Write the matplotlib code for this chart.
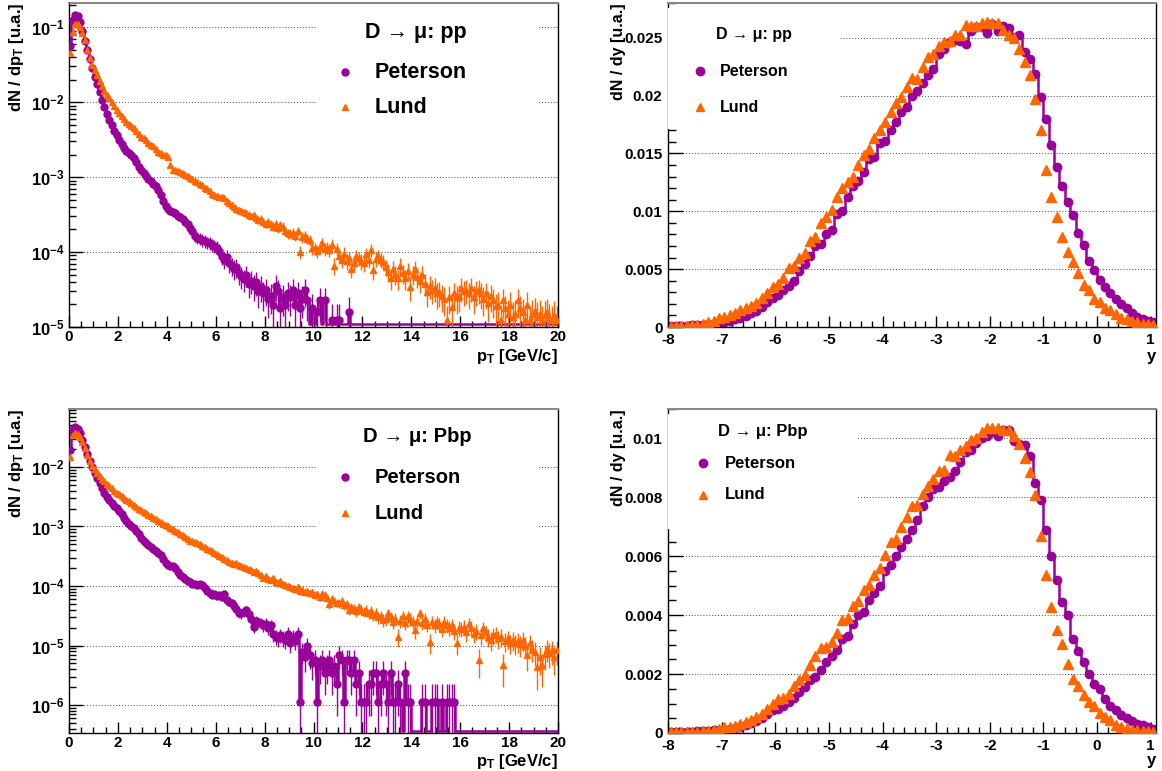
import numpy as np
import matplotlib
matplotlib.use("Agg")
import matplotlib.pyplot as plt
from matplotlib.ticker import MultipleLocator, LogLocator, FuncFormatter, NullFormatter
from matplotlib.patches import Rectangle

plt.rcParams['font.family'] = ['Liberation Sans', 'DejaVu Sans']
plt.rcParams['font.weight'] = 'bold'
plt.rcParams['mathtext.fontset'] = 'custom'
plt.rcParams['mathtext.rm'] = 'Liberation Sans:bold'
plt.rcParams['mathtext.bf'] = 'Liberation Sans:bold'
plt.rcParams['mathtext.it'] = 'Liberation Sans:bold'

PURPLE = '#990099'
ORANGE = '#ff6600'
nan = np.nan

# ---- pT spectra, log10(dN/dpT), bins of 0.1 GeV/c from 0 to 20 ----
pt_pet_pp = [
    -1.25, -0.90, -0.84, -0.85, -0.93, -1.05, -1.18, -1.30, -1.42, -1.54,
    -1.66, -1.76, -1.87, -1.97, -2.07, -2.16, -2.24, -2.31, -2.38, -2.44,
    -2.50, -2.56, -2.61, -2.65, -2.68, -2.71, -2.74, -2.80, -2.86, -2.91,
    -2.95, -2.98, -3.02, -3.05, -3.09, -3.12, -3.17, -3.24, -3.32, -3.38,
    -3.42, -3.45, -3.47, -3.48, -3.52, -3.53, -3.56, -3.60, -3.63, -3.68,
    -3.72, -3.78, -3.81, -3.82, -3.84, -3.85, -3.87, -3.88, -3.90, -3.92,
    -3.94, -3.98, -4.05, -4.10, -4.07, -4.15, -4.18, -4.22, -4.20, -4.28,
    -4.32, -4.36, -4.30, -4.42, -4.38, -4.45, -4.40, -4.52, -4.46, -4.55,
    -4.50, -4.62, -4.58, -4.70, -4.45, -4.52, -4.75, -4.60, -4.70, -4.55,
    -4.60, -4.51, -4.70, -4.55, -4.75, -4.62, -4.51, -4.64, nan, -4.75,
    nan, -4.80, -4.64, nan, -4.64, nan, nan, -4.91, nan, -4.91,
    -4.91, nan, nan, nan, -4.80, nan, nan, nan, nan, nan,
] + [nan] * 80

pt_lund_pp = [
    -1.35, -1.06, -0.96, -0.96, -1.00, -1.08, -1.17, -1.30, -1.41, -1.51,
    -1.57, -1.64, -1.72, -1.78, -1.85, -1.90, -1.95, -2.00, -2.05, -2.10,
    -2.14, -2.18, -2.23, -2.26, -2.29, -2.32, -2.34, -2.38, -2.42, -2.46,
    -2.48, -2.51, -2.54, -2.57, -2.59, -2.62, -2.66, -2.68, -2.70, -2.71,
    -2.73, -2.84, -2.91, -2.90, -2.92, -2.93, -2.95, -2.97, -2.98, -3.01,
    -3.03, -3.05, -3.07, -3.09, -3.11, -3.14, -3.16, -3.19, -3.22, -3.24,
    -3.25, -3.27, -3.26, -3.28, -3.32, -3.35, -3.37, -3.40, -3.42, -3.44,
    -3.45, -3.47, -3.48, -3.50, -3.52, -3.51, -3.55, -3.57, -3.56, -3.60,
    -3.62, -3.60, -3.63, -3.66, -3.62, -3.68, -3.64, -3.66, -3.72, -3.75,
    -3.76, -3.74, -3.78, -3.72, -4.00, -3.80, -3.78, -3.82, -3.84, -3.95,
    -3.95, -3.98, -3.93, -3.88, -3.96, -3.94, -3.97, -3.90, -4.18, -3.96,
    -4.05, -4.10, -4.02, -4.12, -4.08, -4.22, -4.14, -4.05, -4.08, -4.12,
    -4.15, -4.03, -4.10, -3.97, -4.24, -4.09, -4.05, -4.10, -4.13, -4.20,
    -4.26, -4.35, -4.22, -4.30, -4.35, -4.18, -4.28, -4.35, -4.25, -4.47,
    -4.30, -4.22, -4.33, -4.38, -4.30, -4.42, -4.53, -4.45, -4.50, -4.48,
    -4.55, -4.53, -4.58, -4.62, -4.91, -4.60, -4.73, -4.55, -4.60, -4.58,
    -4.48, -4.52, -4.50, -4.55, -4.48, -4.60, -4.52, -4.50, -4.55, -4.62,
    -4.55, -4.68, -4.58, -4.64, -4.72, -4.70, -4.91, -4.64, -4.75, -4.82,
    -4.70, -4.86, -4.82, -4.64, -4.75, -4.80, -4.91, -4.70, -4.91, -4.82,
    -4.78, -4.86, -4.82, -4.91, -4.84, -4.80, -4.88, -4.91, -4.84, -4.91,
]

pt_pet_pbp = [
    -1.72, -1.36, -1.33, -1.36, -1.43, -1.55, -1.67, -1.79, -1.90, -2.00,
    -2.10, -2.19, -2.27, -2.36, -2.43, -2.50, -2.55, -2.60, -2.65, -2.69,
    -2.74, -2.79, -2.86, -2.90, -2.95, -2.99, -3.03, -3.08, -3.13, -3.20,
    -3.24, -3.28, -3.31, -3.34, -3.37, -3.42, -3.45, -3.48, -3.55, -3.62,
    -3.65, -3.66, -3.67, -3.70, -3.76, -3.82, -3.85, -3.88, -3.92, -3.94,
    -3.96, -3.97, -3.98, -3.97, -3.99, -4.03, -4.08, -4.12, -4.15, -4.14,
    -4.16, -4.15, -4.18, -4.14, -4.24, -4.27, -4.29, -4.33, -4.38, -4.45,
    -4.46, -4.43, -4.41, -4.47, -4.55, -4.68, -4.58, -4.60, -4.62, -4.66,
    -4.63, -4.70, -4.66, -4.80, -4.85, -4.88, -4.82, -4.87, -4.90, -4.80,
    -4.96, -4.85, -4.92, -4.80, -5.94, -5.10, -5.20, -5.00, -5.16, -5.30,
    -5.24, -5.94, -5.34, -5.24, -5.46, -5.34, -5.24, -5.46, -5.34, -5.64,
    -5.16, -5.24, -5.94, -5.24, -5.24, -5.46, -5.24, -5.64, -5.46, -5.94,
    -5.94, -5.94, -5.64, -5.64, -5.46, -5.46, -5.94, -5.64, -5.46, -5.64,
    -5.94, -5.46, -5.94, -5.94, -5.64, -5.94, nan, -5.46, -5.94, -5.94,
    nan, nan, nan, nan, -5.94, -5.94, nan, nan, -5.94, -5.94,
    -5.94, nan, -5.94, nan, -5.94, -5.94, -5.94, -5.94, nan, nan,
] + [nan] * 40

pt_lund_pbp = [
    -1.83, -1.47, -1.43, -1.44, -1.49, -1.58, -1.68, -1.80, -1.90, -1.98,
    -2.04, -2.10, -2.15, -2.20, -2.24, -2.28, -2.32, -2.36, -2.40, -2.43,
    -2.46, -2.49, -2.52, -2.55, -2.58, -2.61, -2.64, -2.68, -2.70, -2.73,
    -2.75, -2.78, -2.80, -2.82, -2.85, -2.88, -2.90, -2.93, -2.95, -2.97,
    -2.99, -3.02, -3.05, -3.08, -3.10, -3.12, -3.15, -3.18, -3.21, -3.24,
    -3.25, -3.26, -3.28, -3.30, -3.33, -3.35, -3.37, -3.40, -3.42, -3.45,
    -3.47, -3.49, -3.52, -3.54, -3.56, -3.59, -3.61, -3.63, -3.62, -3.64,
    -3.66, -3.68, -3.70, -3.71, -3.73, -3.76, -3.75, -3.78, -3.82, -3.86,
    -3.84, -3.88, -3.90, -3.87, -3.93, -3.95, -3.92, -3.96, -3.98, -4.00,
    -4.01, -4.03, -4.05, -4.02, -4.09, -4.06, -4.10, -4.08, -4.12, -4.10,
    -4.15, -4.14, -4.18, -4.13, -4.15, -4.20, -4.30, -4.22, -4.25, -4.28,
    -4.29, -4.25, -4.32, -4.30, -4.40, -4.35, -4.38, -4.42, -4.36, -4.40,
    -4.43, -4.40, -4.46, -4.42, -4.48, -4.45, -4.52, -4.50, -4.57, -4.55,
    -4.46, -4.52, -4.60, -4.55, -4.85, -4.58, -4.50, -4.62, -4.51, -4.55,
    -4.60, -4.74, -4.58, -4.46, -4.62, -4.55, -4.65, -4.94, -4.60, -4.66,
    -4.60, -4.64, -4.72, -4.60, -4.66, -4.70, -4.66, -4.75, -4.96, -4.70,
    -4.72, -4.68, -4.78, -4.63, -4.70, -4.80, -4.75, -5.24, -4.82, -4.71,
    -4.78, -4.85, -4.90, -4.82, -4.80, -4.88, -4.85, -5.33, -4.92, -4.88,
    -4.95, -4.90, -4.96, -4.93, -4.98, -4.91, -5.00, -5.16, -4.95, -5.05,
    -5.10, -5.36, -5.20, -5.33, -5.15, -5.05, -5.12, -5.08, -5.20, -5.08,
]

# weight of one entry, used for the Poisson error bars
w_pet_pp, w_lund_pp = 5e-6, 4e-6
w_pet_pbp, w_lund_pbp = 1.15e-6, 1.5e-6

# ---- rapidity spectra dN/dy, bins of 0.1 from -8 to 1.1 ----
y_pet_pp = [
    0.00005, 0.00006, 0.00008, 0.00010, 0.00013, 0.00016, 0.00020, 0.00025, 0.00030, 0.00037,
    0.00045, 0.00055, 0.00066, 0.00080, 0.00098, 0.00118, 0.00140, 0.00170, 0.00215, 0.00250,
    0.00275, 0.00320, 0.00355, 0.00400, 0.00480, 0.00545, 0.00610, 0.00700, 0.00720, 0.00800,
    0.00840, 0.00980, 0.01005, 0.01120, 0.01220, 0.01260, 0.01340, 0.01450, 0.01470, 0.01590,
    0.01610, 0.01700, 0.01770, 0.01860, 0.01900, 0.02000, 0.02040, 0.02110, 0.02180, 0.02230,
    0.02360, 0.02400, 0.02460, 0.02480, 0.02470, 0.02450, 0.02560, 0.02590, 0.02590, 0.02540,
    0.02620, 0.02560, 0.02600, 0.02580, 0.02510, 0.02520, 0.02380, 0.02320, 0.02190, 0.01990,
    0.01800, 0.01570, 0.01380, 0.01220, 0.01080, 0.00970, 0.00810, 0.00710, 0.00570, 0.00490,
    0.00410, 0.00350, 0.00290, 0.00240, 0.00200, 0.00160, 0.00120, 0.00090, 0.00070, 0.00050,
    0.00040,
]
y_lund_pp = [
    0.00003, 0.00005, 0.00007, 0.00010, 0.00014, 0.00018, 0.00025, 0.00040, 0.00055, 0.00075,
    0.00088, 0.00100, 0.00125, 0.00145, 0.00160, 0.00185, 0.00210, 0.00250, 0.00290, 0.00345,
    0.00370, 0.00420, 0.00510, 0.00530, 0.00600, 0.00640, 0.00740, 0.00780, 0.00900, 0.00950,
    0.01010, 0.01125, 0.01200, 0.01250, 0.01300, 0.01400, 0.01490, 0.01540, 0.01630, 0.01700,
    0.01770, 0.01860, 0.01940, 0.01990, 0.02075, 0.02155, 0.02145, 0.02250, 0.02330, 0.02360,
    0.02430, 0.02465, 0.02470, 0.02525, 0.02520, 0.02610, 0.02600, 0.02600, 0.02630, 0.02640,
    0.02630, 0.02630, 0.02570, 0.02520, 0.02500, 0.02400, 0.02290, 0.02175, 0.01970, 0.01700,
    0.01360, 0.01120, 0.00950, 0.00780, 0.00650, 0.00565, 0.00470, 0.00360, 0.00320, 0.00240,
    0.00220, 0.00168, 0.00150, 0.00110, 0.00080, 0.00070, 0.00050, 0.00040, 0.00030, 0.00030,
    0.00020,
]
y_pet_pbp = [
    0.00003, 0.00004, 0.00004, 0.00005, 0.00005, 0.00006, 0.00007, 0.00008, 0.00009, 0.00010,
    0.00011, 0.00013, 0.00016, 0.00022, 0.00027, 0.00033, 0.00042, 0.00052, 0.00065, 0.00078,
    0.00083, 0.00092, 0.00105, 0.00118, 0.00140, 0.00155, 0.00180, 0.00190, 0.00215, 0.00240,
    0.00260, 0.00282, 0.00320, 0.00330, 0.00370, 0.00400, 0.00410, 0.00450, 0.00475, 0.00500,
    0.00550, 0.00570, 0.00600, 0.00630, 0.00660, 0.00690, 0.00722, 0.00770, 0.00800, 0.00830,
    0.00835, 0.00855, 0.00870, 0.00890, 0.00920, 0.00955, 0.00960, 0.00983, 0.01000, 0.01010,
    0.01023, 0.01010, 0.01028, 0.01028, 0.00990, 0.00980, 0.00978, 0.00940, 0.00850, 0.00790,
    0.00690, 0.00600, 0.00520, 0.00444, 0.00400, 0.00320, 0.00280, 0.00240, 0.00200, 0.00168,
    0.00150, 0.00117, 0.00090, 0.00078, 0.00062, 0.00050, 0.00040, 0.00032, 0.00026, 0.00020,
    0.00012,
]
y_lund_pbp = [
    0.00002, 0.00003, 0.00003, 0.00004, 0.00004, 0.00005, 0.00006, 0.00008, 0.00010, 0.00015,
    0.00020, 0.00022, 0.00025, 0.00032, 0.00038, 0.00045, 0.00055, 0.00066, 0.00083, 0.00100,
    0.00117, 0.00120, 0.00134, 0.00160, 0.00179, 0.00198, 0.00230, 0.00260, 0.00290, 0.00292,
    0.00310, 0.00340, 0.00384, 0.00390, 0.00432, 0.00447, 0.00484, 0.00503, 0.00535, 0.00560,
    0.00603, 0.00650, 0.00660, 0.00700, 0.00734, 0.00771, 0.00775, 0.00813, 0.00840, 0.00862,
    0.00890, 0.00893, 0.00943, 0.00940, 0.00960, 0.00975, 0.00994, 0.01000, 0.01023, 0.01034,
    0.01036, 0.01036, 0.01030, 0.01030, 0.01008, 0.00980, 0.00934, 0.00887, 0.00807, 0.00670,
    0.00535, 0.00427, 0.00348, 0.00303, 0.00235, 0.00182, 0.00160, 0.00128, 0.00106, 0.00090,
    0.00067, 0.00055, 0.00045, 0.00028, 0.00022, 0.00017, 0.00011, 0.00010, 0.00006, 0.00006,
    0.00004,
]

pt_x = 0.05 + 0.1 * np.arange(len(pt_lund_pp))
y_x = -7.95 + 0.1 * np.arange(len(y_lund_pp))

fig = plt.figure(figsize=(11.62, 7.71), dpi=100)
W, H = 1162.0, 771.0


def make_ax(x0, x1, ytop, ybot):
    return fig.add_axes([x0 / W, 1 - ybot / H, (x1 - x0) / W, (ybot - ytop) / H])


def style_frame(ax):
    for s in ['left', 'bottom', 'right']:
        ax.spines[s].set_color('black')
        ax.spines[s].set_linewidth(1.0)
    ax.spines['top'].set_color('#888888')
    ax.spines['top'].set_linewidth(1.5)
    ax.tick_params(which='both', direction='in', top=False, right=False,
                   labelsize=11, width=1.0)
    ax.yaxis.grid(True, which='major', ls=(0, (1, 2)), color='#444444', lw=0.7)
    ax.set_axisbelow(True)


def legend(ax, box, head, hx, hy, mx, tx, ys, fs, ms):
    ax.add_patch(Rectangle((box[0], box[1]), box[2] - box[0], box[3] - box[1],
                           transform=ax.transAxes, facecolor='white',
                           edgecolor='none', zorder=3))
    ax.text(hx, hy, head, transform=ax.transAxes, fontsize=fs, fontweight='bold',
            ha='left', va='center', zorder=4)
    for (lab, mk, col), yy in zip([('Peterson', 'o', PURPLE), ('Lund', '^', ORANGE)], ys):
        ax.plot([mx], [yy], marker=mk, color=col, ms=ms, ls='none',
                transform=ax.transAxes, zorder=4, clip_on=False)
        ax.text(tx, yy, lab, transform=ax.transAxes, fontsize=fs, fontweight='bold',
                ha='left', va='center', zorder=4)


def log_fmt(v, p):
    return r'$\mathbf{10^{%d}}$' % int(round(np.log10(v)))


def pt_panel(ax, pet_log, lund_log, w_pet, w_lund, ymin, ymax, xlab_y):
    pet = 10 ** np.array(pet_log, dtype=float)
    lund = 10 ** np.array(lund_log, dtype=float)
    ax.set_yscale('log')
    ax.set_xlim(0, 20)
    ax.set_ylim(ymin, ymax)
    # empty bins of the Peterson histogram sit on the lower frame
    line = np.where(np.isnan(pet), ymin * 1.08, pet)
    ax.step(pt_x, line, where='mid', color=PURPLE, lw=1.8, zorder=2)
    for v, w, mk, col, ms in [(pet, w_pet, 'o', PURPLE, 5), (lund, w_lund, '^', ORANGE, 5)]:
        err = np.sqrt(v * w)
        lo = np.where(v - err <= ymin, v - ymin * 0.9, err)
        ax.errorbar(pt_x, v, yerr=[lo, err], fmt=mk, color=col, ms=ms, mec=col,
                    elinewidth=1.0, capsize=0, zorder=2.5)
    style_frame(ax)
    ax.xaxis.set_major_locator(MultipleLocator(2))
    ax.xaxis.set_minor_locator(MultipleLocator(0.5))
    ax.xaxis.set_major_formatter(FuncFormatter(lambda v, p: '%d' % v))
    ax.yaxis.set_major_locator(LogLocator(base=10, numticks=20))
    ax.yaxis.set_minor_locator(LogLocator(base=10, subs=np.arange(2, 10), numticks=20))
    ax.yaxis.set_major_formatter(FuncFormatter(log_fmt))
    ax.yaxis.set_minor_formatter(NullFormatter())
    ax.tick_params(axis='y', which='major', length=10, pad=3, labelsize=12)
    ax.tick_params(axis='y', which='minor', length=5)
    ax.tick_params(axis='x', which='major', length=8, pad=2)
    ax.tick_params(axis='x', which='minor', length=4)
    ax.set_ylabel(r'dN / dp$_{\mathbf{T}}$ [u.a.]', fontsize=12, fontweight='bold', loc='top')
    ax.yaxis.set_label_coords(-0.088, 1.0)
    ax.set_xlabel(r'p$_{\mathbf{T}}$ [GeV/c]', fontsize=12, fontweight='bold', loc='right')
    ax.xaxis.set_label_coords(1.0, xlab_y)


def y_panel(ax, pet, lund, ymax, major, minor, xlab_y):
    ax.set_xlim(-8, 1.1)
    ax.set_ylim(0, ymax)
    ax.step(y_x, pet, where='mid', color=PURPLE, lw=1.8, zorder=2)
    ax.plot(y_x, pet, 'o', color=PURPLE, ms=6, zorder=2.5)
    ax.plot(y_x, lund, '^', color=ORANGE, ms=6.5, zorder=2.6)
    style_frame(ax)
    ax.xaxis.set_major_locator(MultipleLocator(1))
    ax.xaxis.set_minor_locator(MultipleLocator(0.2))
    ax.xaxis.set_major_formatter(FuncFormatter(lambda v, p: '%d' % round(v)))
    ax.yaxis.set_major_locator(MultipleLocator(major))
    ax.yaxis.set_minor_locator(MultipleLocator(minor))
    ax.yaxis.set_major_formatter(FuncFormatter(lambda v, p: '0' if abs(v) < 1e-12 else '%g' % v))
    ax.tick_params(axis='y', which='major', length=11, pad=4)
    ax.tick_params(axis='y', which='minor', length=6)
    ax.tick_params(axis='x', which='major', length=8, pad=4)
    ax.tick_params(axis='x', which='minor', length=4)
    ax.set_ylabel('dN / dy [u.a.]', fontsize=11.5, fontweight='bold', loc='top')
    ax.yaxis.set_label_coords(-0.086, 1.0)
    ax.set_xlabel('y', fontsize=12, fontweight='bold', loc='right')
    ax.xaxis.set_label_coords(1.0, xlab_y)


ax1 = make_ax(69, 558, 3, 327)
pt_panel(ax1, pt_pet_pp, pt_lund_pp, w_pet_pp, w_lund_pp, 1e-5, 0.21, -0.062)
legend(ax1, (0.507, 0.577, 0.959, 0.985), u'D \u2192 \u03bc: pp', 0.605, 0.91,
       0.564, 0.626, (0.787, 0.679), 15.5, 5)

ax2 = make_ax(668, 1156, 3, 327)
y_panel(ax2, y_pet_pp, y_lund_pp, 0.028, 0.005, 0.001, -0.068)
legend(ax2, (0.0, 0.61, 0.352, 0.985), u'D \u2192 \u03bc: pp', 0.098, 0.904,
       0.066, 0.107, (0.79, 0.679), 11.5, 6)

ax3 = make_ax(69, 558, 409, 733)
pt_panel(ax3, pt_pet_pbp, pt_lund_pbp, w_pet_pbp, w_lund_pbp, 3.4e-7, 0.094, -0.058)
legend(ax3, (0.507, 0.58, 0.959, 0.985), u'D \u2192 \u03bc: Pbp', 0.601, 0.914,
       0.564, 0.626, (0.79, 0.679), 14.5, 5)

ax4 = make_ax(668, 1156, 409, 733)
y_panel(ax4, y_pet_pbp, y_lund_pbp, 0.011, 0.002, 0.0005, -0.062)
legend(ax4, (0.0, 0.63, 0.39, 0.985), u'D \u2192 \u03bc: Pbp', 0.102, 0.932,
       0.072, 0.117, (0.833, 0.735), 12, 6)

fig.savefig('out.png', dpi=100)
